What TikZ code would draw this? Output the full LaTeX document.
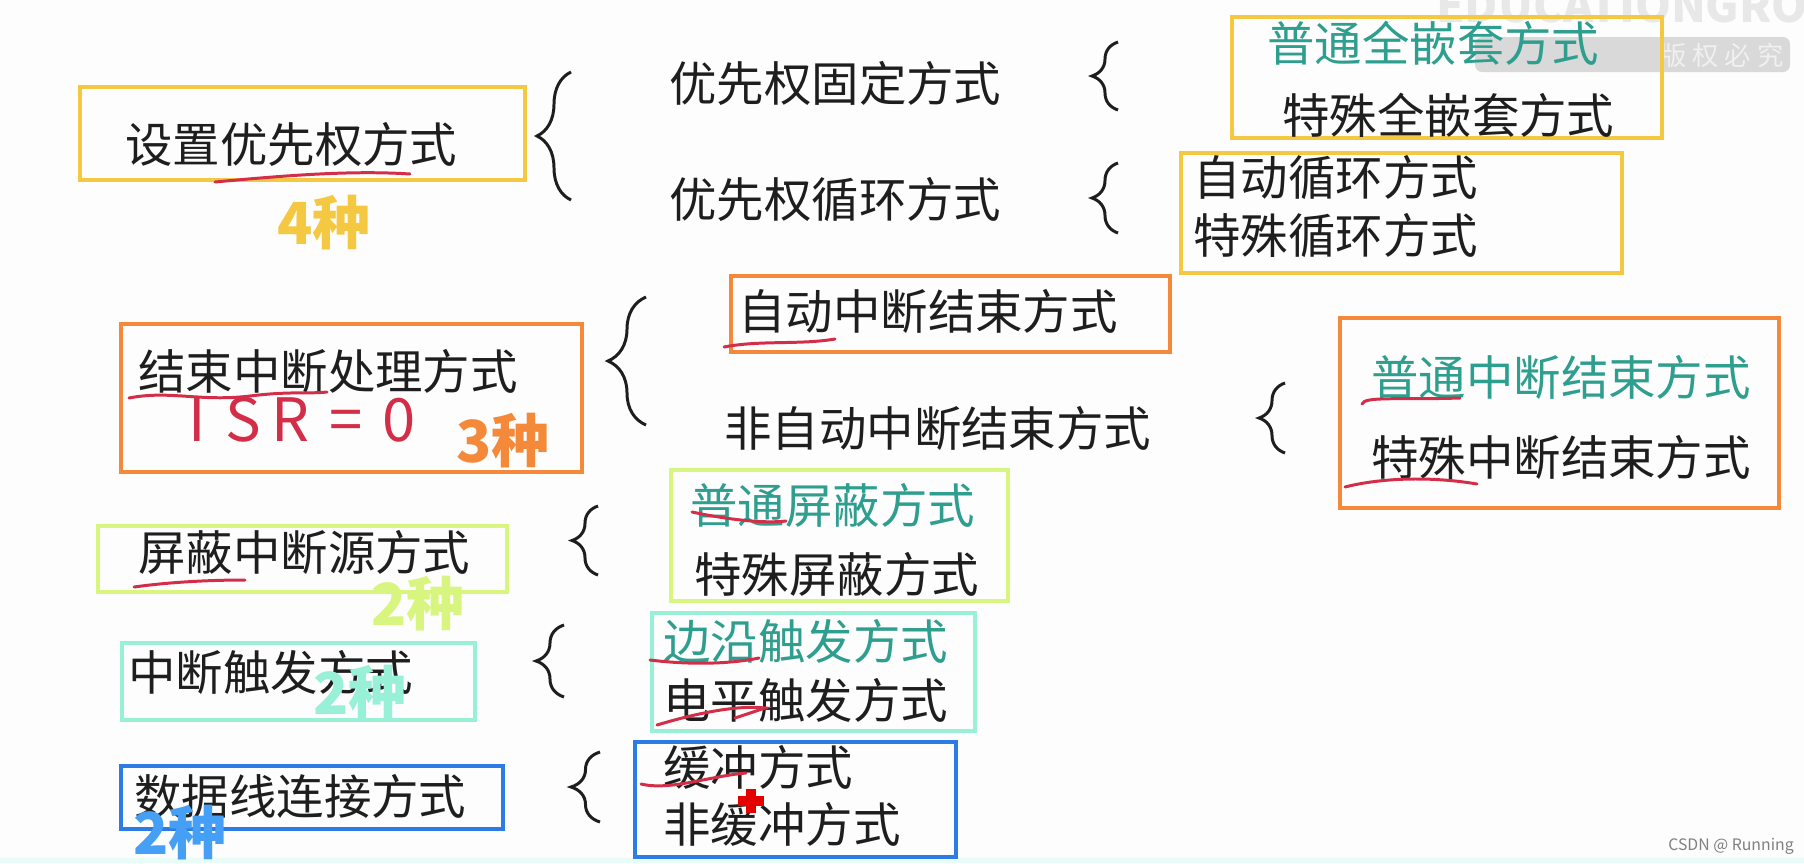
\documentclass[tikz,border=0pt]{standalone}
\usepackage{fontspec}
\usepackage{xcolor}
\usepackage{tikz}
\usetikzlibrary{fit,decorations.pathreplacing}
\newfontfamily\cjk{Noto Sans CJK SC}
\definecolor{ink}{HTML}{1E1E1E}
\definecolor{tealink}{HTML}{2E9E8E}
\definecolor{boxyellow}{HTML}{F5C842}
\definecolor{boxorange}{HTML}{F4893A}
\definecolor{boxlime}{HTML}{D8F57F}
\definecolor{boxaqua}{HTML}{98F0D6}
\definecolor{boxblue}{HTML}{2D7BE5}
\definecolor{countblue}{HTML}{45A0F5}
\definecolor{penred}{HTML}{D42D48}
\definecolor{paper}{HTML}{FDFDFD}
\tikzset{
  ybox/.style={rectangle,draw=boxyellow,line width=2.8pt,inner sep=0pt},
  obox/.style={rectangle,draw=boxorange,line width=2.8pt,inner sep=0pt},
  lbox/.style={rectangle,draw=boxlime,line width=2.8pt,inner sep=0pt},
  abox/.style={rectangle,draw=boxaqua,line width=2.8pt,inner sep=0pt},
  bbox/.style={rectangle,draw=boxblue,line width=2.8pt,inner sep=0pt},
  txt/.style={inner sep=0pt,anchor=west,font=\cjk\fontsize{27}{30}\selectfont,text=ink},
  hl/.style={txt,text=tealink},
  count/.style={inner sep=0pt,font=\cjk\bfseries\fontsize{33}{36}\selectfont},
  brc/.style={decorate,decoration={brace,amplitude=#1},line width=1.7pt,draw=ink},
  pen/.style={draw=penred,line width=1.7pt,line cap=round}
}
\begin{document}
\begin{tikzpicture}[x=0.02cm,y=-0.02cm]
\useasboundingbox (0,0) rectangle (1804,863);
\fill[paper] (0,0) rectangle (1804,863);
\fill[boxaqua!20] (0,858) rectangle (1804,863);
\node[inner sep=0pt,font=\cjk\bfseries\fontsize{26}{28}\selectfont,text=gray!18] (wmark) at (1655,6) {EDUCATIONGROUP};
\fill[gray!30,rounded corners=4pt] (1475,37) rectangle (1790,72);
\node[inner sep=0pt,font=\cjk\fontsize{15}{17}\selectfont,text=gray!12] (wbar) at (1722,55) {版\ 权\ 必\ 究};
\node[ybox,fit={(80,87) (525,180)}] (boxA) {};
\node[ybox,fit={(1232,17) (1662,138)}] (boxB) {};
\node[ybox,fit={(1181,153) (1622,273)}] (boxC) {};
\node[obox,fit={(121,324) (582,472)}] (boxD) {};
\node[obox,fit={(731,276) (1170,352)}] (boxE) {};
\node[obox,fit={(1340,318) (1779,508)}] (boxF) {};
\node[lbox,fit={(98,526) (507,592)}] (boxG) {};
\node[lbox,fit={(671,470) (1008,601)}] (boxH) {};
\node[abox,fit={(122,643) (475,720)}] (boxI) {};
\node[abox,fit={(652,613) (975,731)}] (boxJ) {};
\node[bbox,fit={(121,766) (503,829)}] (boxK) {};
\node[bbox,fit={(635,742) (956,857)}] (boxL) {};
\node[txt] (prio) at (125,144) {设置优先权方式};
\node[txt] (fixed) at (669,83) {优先权固定方式};
\node[txt] (rotate) at (669,200) {优先权循环方式};
\node[hl] (fullnest) at (1267,43) {普通全嵌套方式};
\node[txt] (specnest) at (1282,115) {特殊全嵌套方式};
\node[txt] (autorot) at (1193,178) {自动循环方式};
\node[txt] (specrot) at (1193,236) {特殊循环方式};
\node[txt] (eoi) at (138,371) {结束中断处理方式};
\node[inner sep=0pt,font=\cjk\fontsize{34}{36}\selectfont,text=penred] (isr) at (302,420) {I\,\,S\,R\,\,=\,\,0};
\node[txt] (aeoi) at (738,311) {自动中断结束方式};
\node[txt] (neoi) at (724,428) {非自动中断结束方式};
\node[hl] (normeoi) at (1371,377) {普通中断结束方式};
\node[txt] (speceoi) at (1371,457) {特殊中断结束方式};
\node[txt] (mask) at (138,552) {屏蔽中断源方式};
\node[hl] (normmask) at (690,505) {普通屏蔽方式};
\node[txt] (specmask) at (694,574) {特殊屏蔽方式};
\node[txt] (trig) at (128,672) {中断触发方式};
\node[hl] (edge) at (663,641) {边沿触发方式};
\node[txt] (level) at (663,700) {电平触发方式};
\node[txt] (bus) at (134,796) {数据线连接方式};
\node[txt] (buf) at (663,767) {缓冲方式};
\node[txt] (nobuf) at (663,824) {非缓冲方式};
\node[count,text=boxyellow] (cntA) at (324,223) {4种};
\node[count,text=boxorange] (cntD) at (503,441) {3种};
\node[count,text=boxlime] (cntG) at (418,604) {2种};
\node[count,text=boxaqua] (cntI) at (360,693) {2种};
\node[count,text=countblue] (cntK) at (180,833) {2种};
\draw[brc=0.68cm] (571,200) -- (571,72);
\draw[brc=0.52cm] (1118,110) -- (1118,42);
\draw[brc=0.52cm] (1118,233) -- (1118,163);
\draw[brc=0.76cm] (646,425) -- (646,297);
\draw[brc=0.52cm] (1285,453) -- (1285,383);
\draw[brc=0.52cm] (598,575) -- (598,506);
\draw[brc=0.56cm] (564,697) -- (564,625);
\draw[brc=0.58cm] (600,822) -- (600,752);
\draw[pen] (215,182) .. controls (280,176) and (350,170) .. (410,174);
\draw[pen] (129,398) .. controls (170,390) and (200,402) .. (250,396) .. controls (290,391) and (310,394) .. (327,392);
\draw[pen] (724,347) .. controls (760,340) and (800,345) .. (835,339);
\draw[pen] (1362,404) .. controls (1364,396) and (1400,400) .. (1460,398);
\draw[pen] (1345,487) .. controls (1380,478) and (1430,476) .. (1477,484);
\draw[pen] (692,512) .. controls (720,518) and (760,524) .. (786,521);
\draw[pen] (134,587) .. controls (170,582) and (210,580) .. (245,580);
\draw[pen] (650,660) .. controls (690,665) and (730,664) .. (759,658);
\draw[pen] (657,725) .. controls (700,712) and (740,705) .. (765,708) -- (735,718);
\draw[pen] (641,784) .. controls (670,791) and (710,776) .. (746,773);
\draw[red!90!black,line width=5.5pt] (738,801) -- (764,801) (751,789) -- (751,813);
\node[inner sep=0pt,font=\cjk\fontsize{9}{10}\selectfont,text=gray] (csdn) at (1731,846) {CSDN @ Running};
\end{tikzpicture}
\end{document}
